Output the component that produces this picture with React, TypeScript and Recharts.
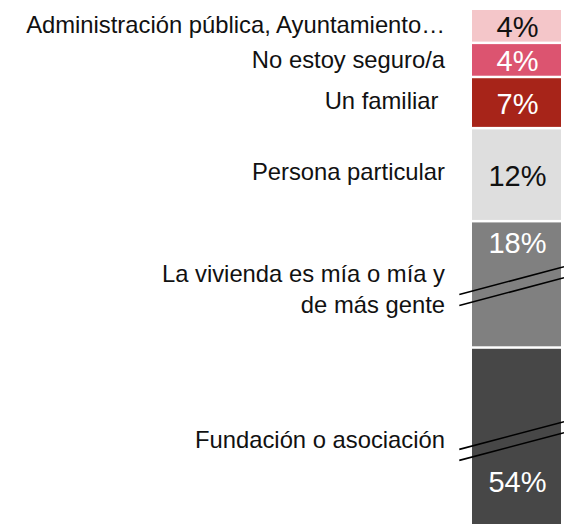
import { BarChart, Bar, XAxis, YAxis, LabelList } from "recharts";

// segments listed top -> bottom
const categories = [
  "Administración pública, Ayuntamiento…",
  "No estoy seguro/a",
  "Un familiar\u00a0",
  "Persona particular",
  "La vivienda es mía o mía y\nde más gente",
  "Fundación o asociación",
];
// underlying shares (labels are rounded)
const shares = [4.4, 4.4, 6.6, 12.0, 18.0, 54.3];
const percentLabels = ["4%", "4%", "7%", "12%", "18%", "54%"];
// part of each share hidden by the axis break
const hiddenByBreak = [0, 0, 0, 0, 1.7, 31.7];

const FONT = '"Liberation Sans", Arial, Helvetica, sans-serif';
const GAP = 2.5;

const segmentStyles = [
  { fill: "#f4c6c9", text: "#111111", pct: "middle", labelDy: 5.5 },
  { fill: "#dc5470", text: "#ffffff", pct: "middle", labelDy: 7 },
  { fill: "#a72419", text: "#ffffff", pct: "middle", labelDy: 5.5 },
  { fill: "#dedede", text: "#111111", pct: "middle", labelDy: 4.5 },
  { fill: "#808080", text: "#ffffff", pct: "top", labelDy: -3.8, breakAt: 72 },
  { fill: "#474747", text: "#ffffff", pct: "bottom", labelDy: 11.9, breakAt: 100.6 },
];

const row: Record<string, number | string> = { name: "total" };
shares.forEach((v, i) => {
  row[`s${i}`] = v - hiddenByBreak[i];
});
const data = [row];
const shownTotal = shares.reduce((a, v, i) => a + v - hiddenByBreak[i], 0);

function renderSegment(props: any, i: number) {
  const vb = props.viewBox ?? props;
  const top = Math.min(vb.y, vb.y + vb.height);
  const h = Math.abs(vb.height);
  const x = vb.x;
  const w = vb.width;
  const st = segmentStyles[i];
  const cx = x + w / 2;
  const cy = top + h / 2;

  let pctY = cy + 10;
  if (st.pct === "top") pctY = top + 30.6;
  if (st.pct === "bottom") pctY = top + h - 32.3;

  const lines = categories[i].split("\n");
  const labelX = x - 27;

  let breakLines = null;
  if (st.breakAt !== undefined) {
    const x1 = x - 12.7;
    const x2 = x + w + 3;
    const y1 = top + st.breakAt;
    const drop = (x2 - x1) * 0.264;
    breakLines = [0, 11].map((d) => (
      <line
        key={d}
        x1={x1}
        y1={y1 + d}
        x2={x2}
        y2={y1 + d - drop}
        stroke="#000"
        strokeWidth={1.6}
      />
    ));
  }

  return (
    <g>
      <text
        x={cx + 1}
        y={pctY}
        textAnchor="middle"
        fill={st.text}
        fontSize={29}
        fontFamily={FONT}
      >
        {percentLabels[i]}
      </text>
      <text
        x={labelX}
        y={cy + st.labelDy}
        textAnchor="end"
        fill="#111111"
        fontSize={23.8}
        fontFamily={FONT}
      >
        {lines.map((l, k) => (
          <tspan key={k} x={labelX} dy={k === 0 ? 0 : 31.5}>
            {l}
          </tspan>
        ))}
      </text>
      {breakLines}
    </g>
  );
}

export default function App() {
  const order = shares.map((_, i) => i).reverse();
  const last = shares.length - 1;
  return (
    <div style={{ position: "absolute", left: 0, top: 0, background: "#fff" }}>
      <BarChart
        width={564}
        height={524}
        data={data}
        margin={{ top: 10, right: 3, bottom: 0, left: 472 }}
        barCategoryGap={0}
      >
        <XAxis dataKey="name" hide />
        <YAxis hide domain={[0, shownTotal]} />
        {order.map((i) => (
          <Bar
            key={i}
            dataKey={`s${i}`}
            stackId="a"
            fill={segmentStyles[i].fill}
            isAnimationActive={false}
            shape={(p: any) => (
              <rect
                x={p.x}
                y={p.y}
                width={p.width}
                height={Math.max(0, p.height - (i === last ? 0 : GAP))}
                fill={segmentStyles[i].fill}
              />
            )}
          >
            <LabelList
              dataKey={`s${i}`}
              content={(p: any) => renderSegment(p, i)}
            />
          </Bar>
        ))}
      </BarChart>
    </div>
  );
}
